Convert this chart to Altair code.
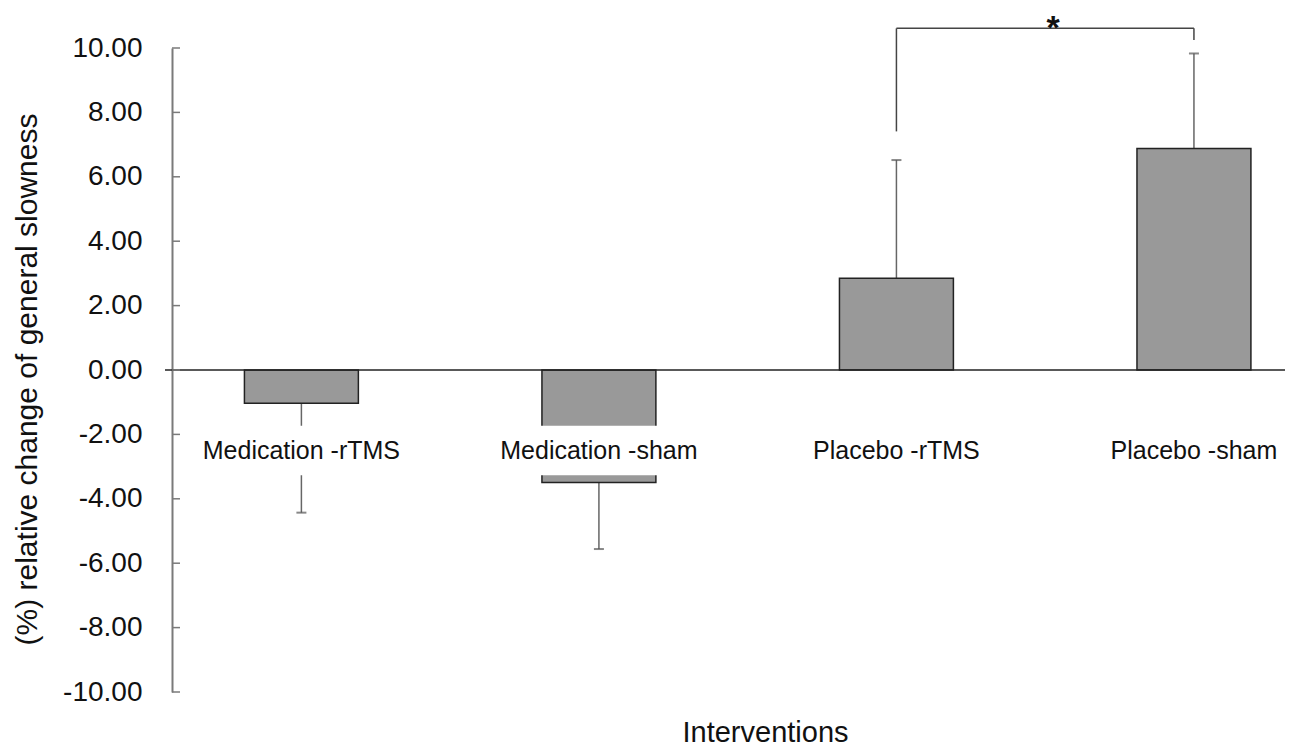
import altair as alt
import pandas as pd
import numpy as np

# ---- data ----
categories = ["Medication -rTMS", "Medication -sham", "Placebo -rTMS", "Placebo -sham"]
means = [-1.03, -3.49, 2.85, 6.88]
sds = [3.40, 2.07, 3.67, 2.95]
y_ticks = [-10, -8, -6, -4, -2, 0, 2, 4, 6, 8, 10]
bracket_cats = ["Placebo -rTMS", "Placebo -sham"]
bracket_low = [7.41, 10.25]
bracket_top = 10.61
star_y = 10.28
label_y = -2.5
label_half = 0.72

# ---- layout ----
W, H = 1113, 644
FONT = "Liberation Sans"
P_IN, P_OUT, ALIGN = 0.617, 0.179, 0.68
step = W / (len(categories) - P_IN + 2 * P_OUT)

df = pd.DataFrame({"cat": categories, "mean": means, "sd": sds})
df["err"] = df["mean"] + np.sign(df["mean"]) * df["sd"]
df["ly"] = label_y
df["ly_top"] = label_y + label_half
df["ly_bot"] = label_y - label_half

x_scale = alt.Scale(domain=categories, paddingInner=P_IN, paddingOuter=P_OUT, align=ALIGN)
y_scale = alt.Scale(domain=[-10, 10], nice=False, zero=False)

x_axis = alt.Axis(title="Interventions", labels=False, ticks=False, domain=False,
                  titleFont=FONT, titleFontSize=29, titleFontWeight="normal",
                  titleColor="#111", titleX=593, titleY=49,
                  titleAlign="center", titleBaseline="alphabetic")
y_axis = alt.Axis(title="(%) relative change of general slowness", values=y_ticks,
                  labelExpr="replace(format(datum.value, '.2f'), '\u2212', '-')",
                  ticks=False, grid=False, domainColor="#7a7a7a", domainWidth=2,
                  labelFont=FONT, labelFontSize=28, labelColor="#111", labelPadding=30,
                  titleFont=FONT, titleFontSize=30, titleFontWeight="normal",
                  titleColor="#111", titleX=-145, titleY=331, titleAngle=-90,
                  titleAlign="center", titleBaseline="middle")

def X(field="cat"):
    return alt.X(f"{field}:N", scale=x_scale, sort=categories, axis=x_axis)

def Y(field):
    return alt.Y(f"{field}:Q", scale=y_scale, axis=y_axis)

base = alt.Chart(df)

err_rule = base.mark_rule(color="#666", strokeWidth=1.5).encode(
    x=X(), y=Y("mean"), y2="err:Q")
err_cap = base.mark_tick(color="#555", thickness=2, size=10, orient="horizontal").encode(
    x=X(), y=Y("err"))
bars = base.mark_bar(color="#999999", stroke="#222", strokeWidth=1.5).encode(
    x=X(), y=Y("mean"))

zero_line = alt.Chart(pd.DataFrame({"z": [0]})).mark_rule(color="#222", strokeWidth=1.5).encode(
    y=Y("z"), x=alt.value(-7), x2=alt.value(W))

ticks_in = alt.Chart(pd.DataFrame({"t": y_ticks})).mark_rule(color="#7a7a7a", strokeWidth=1.5).encode(
    y=Y("t"), x=alt.value(0), x2=alt.value(8))

label_box = base.mark_rect(color="white", stroke="white", strokeWidth=3).encode(
    x=X(), y=Y("ly_top"), y2="ly_bot:Q")
labels = base.mark_text(font=FONT, fontSize=25, color="#111").encode(
    x=X(), y=Y("ly"), text="cat:N")

br_v = alt.Chart(pd.DataFrame({"cat": bracket_cats, "lo": bracket_low,
                               "hi": [bracket_top] * 2})).mark_rule(
    color="#444", strokeWidth=1.5).encode(x=X(), y=Y("lo"), y2="hi:Q")
br_h = alt.Chart(pd.DataFrame({"cat": [bracket_cats[0]], "cat2": [bracket_cats[1]],
                               "hi": [bracket_top]})).mark_rule(
    color="#444", strokeWidth=1.5).encode(x=X(), x2="cat2:N", y=Y("hi"))
star = alt.Chart(pd.DataFrame({"cat": [bracket_cats[0]], "sy": [star_y], "s": ["*"]})).mark_text(
    font=FONT, fontSize=34, fontWeight="bold", color="#111", dx=step / 2 + 8,
    baseline="alphabetic").encode(
    x=X(), y=Y("sy"), text="s:N")

chart = alt.layer(
    err_rule, err_cap, bars, zero_line, ticks_in, label_box, labels, br_v, br_h, star
).properties(
    width=W, height=H,
    padding={"left": 164, "top": 40, "right": 21, "bottom": 55},
    autosize=alt.AutoSizeParams(type="none"),
).configure_view(stroke=None)

chart.save("out.html", embed_options={"renderer": "svg", "actions": False})
